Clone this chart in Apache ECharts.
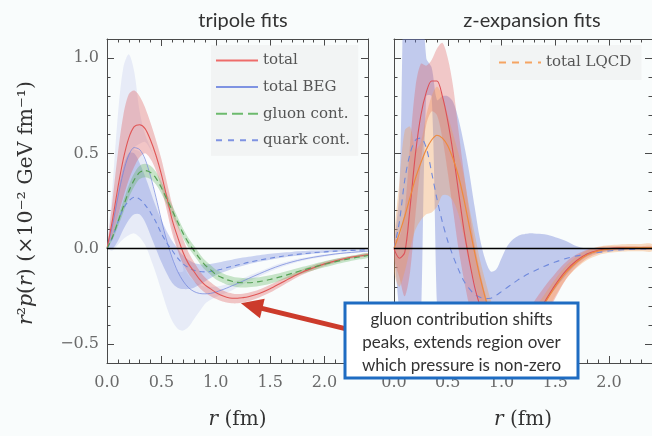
<!DOCTYPE html>
<html>
<head>
<meta charset="utf-8">
<script src="https://cdn.jsdelivr.net/npm/echarts@6/dist/echarts.min.js"></script>
<style>html,body{margin:0;padding:0;background:#f9fcfc;}#chart{width:652px;height:436px;}</style>
</head>
<body>
<div id="chart"></div>
<script>
// radius grid (fm)
const R = [0,0.05,0.1,0.15,0.2,0.25,0.3,0.35,0.4,0.45,0.5,0.55,0.6,0.65,0.7,0.75,0.8,0.85,0.9,0.95,1.0,1.05,1.1,1.15,1.2,1.25,1.3,1.4,1.5,1.6,1.7,1.8,1.9,2.0,2.1,2.2,2.3,2.4];

// ---- tripole fits ----
const TRI_TOTAL    = [0,0.15,0.32,0.47,0.58,0.64,0.65,0.63,0.57,0.49,0.39,0.27,0.15,0.06,-0.02,-0.08,-0.12,-0.16,-0.19,-0.21,-0.23,-0.245,-0.255,-0.26,-0.26,-0.257,-0.252,-0.235,-0.21,-0.18,-0.15,-0.122,-0.1,-0.08,-0.064,-0.05,-0.04,-0.032];
const TRI_TOTAL_UP = [0,0.25,0.5,0.7,0.81,0.83,0.8,0.74,0.66,0.57,0.47,0.35,0.23,0.13,0.05,-0.02,-0.07,-0.115,-0.15,-0.175,-0.197,-0.215,-0.228,-0.235,-0.238,-0.236,-0.232,-0.215,-0.19,-0.162,-0.134,-0.108,-0.087,-0.069,-0.054,-0.042,-0.033,-0.025];
const TRI_TOTAL_LO = [0,0.07,0.17,0.27,0.36,0.43,0.48,0.5,0.47,0.41,0.32,0.2,0.08,-0.01,-0.08,-0.13,-0.17,-0.205,-0.23,-0.248,-0.263,-0.275,-0.283,-0.287,-0.287,-0.283,-0.276,-0.256,-0.23,-0.198,-0.166,-0.136,-0.113,-0.091,-0.074,-0.058,-0.047,-0.039];
const TRI_BEG      = [0,0.12,0.27,0.4,0.49,0.53,0.52,0.47,0.38,0.27,0.15,0.04,-0.05,-0.12,-0.17,-0.205,-0.225,-0.235,-0.237,-0.235,-0.228,-0.218,-0.207,-0.195,-0.183,-0.17,-0.157,-0.132,-0.108,-0.087,-0.07,-0.056,-0.045,-0.036,-0.028,-0.022,-0.017,-0.013];
const TRI_BEG_UP   = [0,0.32,0.7,0.95,1.02,0.93,0.72,0.6,0.53,0.45,0.36,0.25,0.13,0.02,-0.08,-0.14,-0.17,-0.19,-0.2,-0.2,-0.2,-0.195,-0.187,-0.177,-0.167,-0.155,-0.143,-0.12,-0.097,-0.077,-0.061,-0.048,-0.038,-0.03,-0.023,-0.018,-0.013,-0.01];
const TRI_BEG_LO   = [0,-0.01,0.02,0.05,0.07,0.08,0.06,0.02,-0.05,-0.13,-0.22,-0.31,-0.38,-0.42,-0.43,-0.41,-0.37,-0.33,-0.29,-0.27,-0.255,-0.243,-0.232,-0.218,-0.203,-0.188,-0.173,-0.146,-0.12,-0.097,-0.079,-0.064,-0.052,-0.042,-0.033,-0.026,-0.021,-0.016];
const R_GAP        = [0.25,0.3,0.35,0.4,0.45,0.5,0.55,0.6,0.65,0.7];
const TRI_GAP_UP   = [0.53,0.55,0.56,0.52,0.45,0.35,0.23,0.11,0.0,-0.1];
const TRI_GAP_LO   = [0.52,0.51,0.46,0.37,0.26,0.14,0.03,-0.06,-0.12,-0.12];
const TRI_QUARK    = [0,0.06,0.14,0.21,0.25,0.27,0.26,0.23,0.19,0.14,0.08,0.03,-0.01,-0.05,-0.08,-0.1,-0.113,-0.12,-0.122,-0.12,-0.115,-0.108,-0.1,-0.093,-0.086,-0.079,-0.072,-0.06,-0.05,-0.041,-0.033,-0.027,-0.021,-0.017,-0.013,-0.01,-0.008,-0.006];
const TRI_QUARK_UP = [0,0.14,0.3,0.43,0.5,0.5,0.45,0.38,0.3,0.22,0.15,0.09,0.04,0.0,-0.035,-0.06,-0.075,-0.082,-0.083,-0.08,-0.075,-0.07,-0.064,-0.058,-0.052,-0.047,-0.042,-0.034,-0.027,-0.021,-0.017,-0.013,-0.01,-0.008,-0.006,-0.005,-0.004,-0.003];
const TRI_QUARK_LO = [0,0.0,0.04,0.1,0.15,0.18,0.18,0.14,0.07,0.0,-0.07,-0.13,-0.18,-0.205,-0.212,-0.212,-0.205,-0.19,-0.172,-0.155,-0.14,-0.128,-0.117,-0.107,-0.098,-0.09,-0.082,-0.069,-0.058,-0.048,-0.04,-0.033,-0.027,-0.022,-0.018,-0.014,-0.011,-0.009];
const TRI_GLUON    = [0,0.06,0.14,0.22,0.3,0.36,0.4,0.41,0.4,0.37,0.32,0.26,0.2,0.14,0.08,0.03,-0.01,-0.05,-0.085,-0.11,-0.135,-0.15,-0.163,-0.171,-0.177,-0.179,-0.179,-0.173,-0.162,-0.147,-0.13,-0.113,-0.097,-0.082,-0.068,-0.056,-0.045,-0.036];
const TRI_GLUON_UP = [0,0.075,0.165,0.25,0.333,0.395,0.435,0.445,0.435,0.403,0.35,0.288,0.226,0.165,0.105,0.055,0.015,-0.025,-0.06,-0.085,-0.11,-0.125,-0.138,-0.146,-0.152,-0.154,-0.155,-0.15,-0.14,-0.127,-0.111,-0.095,-0.08,-0.066,-0.053,-0.042,-0.032,-0.024];
const TRI_GLUON_LO = [0,0.045,0.115,0.19,0.267,0.325,0.365,0.375,0.365,0.337,0.29,0.232,0.174,0.115,0.055,0.005,-0.035,-0.075,-0.11,-0.135,-0.16,-0.175,-0.188,-0.196,-0.202,-0.204,-0.203,-0.196,-0.184,-0.167,-0.149,-0.131,-0.114,-0.098,-0.083,-0.07,-0.058,-0.048];

// ---- z-expansion fits ----
const Z_TOTAL    = [0,-0.05,-0.02,0.22,0.5,0.7,0.82,0.88,0.88,0.8,0.67,0.5,0.3,0.1,-0.06,-0.2,-0.3,-0.39,-0.46,-0.51,-0.54,-0.55,-0.54,-0.51,-0.47,-0.42,-0.37,-0.28,-0.19,-0.115,-0.062,-0.027,-0.009,0.0,0.004,0.005,0.005,0.005];
const Z_TOTAL_UP = [0.04,0.06,0.2,0.55,0.85,0.97,0.96,0.99,1.05,1.08,1.0,0.85,0.62,0.4,0.2,0.02,-0.12,-0.24,-0.33,-0.39,-0.42,-0.43,-0.42,-0.4,-0.36,-0.32,-0.28,-0.2,-0.13,-0.07,-0.03,-0.005,0.007,0.012,0.014,0.014,0.013,0.013];
const Z_TOTAL_LO = [-0.05,-0.15,-0.25,-0.12,0.18,0.45,0.65,0.72,0.7,0.58,0.4,0.2,0.0,-0.16,-0.3,-0.4,-0.5,-0.56,-0.62,-0.66,-0.68,-0.68,-0.66,-0.63,-0.59,-0.54,-0.48,-0.37,-0.26,-0.16,-0.095,-0.05,-0.025,-0.012,-0.006,-0.004,-0.003,-0.003];
const Z_LQCD     = [0,0.08,0.17,0.27,0.37,0.45,0.52,0.57,0.595,0.58,0.54,0.47,0.38,0.26,0.12,-0.02,-0.15,-0.26,-0.36,-0.44,-0.5,-0.53,-0.54,-0.52,-0.49,-0.44,-0.39,-0.29,-0.2,-0.125,-0.07,-0.032,-0.012,-0.002,0.003,0.005,0.005,0.005];
const Z_LQCD_UP  = [0.05,0.35,0.62,0.64,0.52,0.56,0.7,0.8,0.85,0.8,0.7,0.6,0.5,0.38,0.22,0.08,-0.06,-0.17,-0.27,-0.35,-0.41,-0.44,-0.45,-0.43,-0.4,-0.36,-0.32,-0.24,-0.16,-0.09,-0.04,-0.008,0.01,0.018,0.022,0.024,0.025,0.025];
const Z_LQCD_LO  = [-0.12,-0.2,-0.12,0.0,0.1,0.15,0.18,0.19,0.22,0.28,0.28,0.25,0.18,0.06,-0.08,-0.18,-0.28,-0.37,-0.46,-0.54,-0.6,-0.63,-0.64,-0.62,-0.59,-0.54,-0.48,-0.36,-0.25,-0.16,-0.1,-0.058,-0.034,-0.022,-0.016,-0.014,-0.014,-0.014];
const Z_QUARK    = [0,0.14,0.36,0.5,0.57,0.58,0.53,0.4,0.26,0.14,0.04,-0.04,-0.11,-0.17,-0.21,-0.24,-0.255,-0.262,-0.26,-0.245,-0.225,-0.205,-0.185,-0.165,-0.148,-0.132,-0.118,-0.092,-0.07,-0.052,-0.038,-0.028,-0.02,-0.012,-0.007,-0.004,-0.002,-0.001];
const Z_QUARK_UP = [0.02,0.3,1.6,1.8,1.8,1.5,1.0,0.95,0.78,0.8,0.8,0.77,0.68,0.55,0.4,0.22,0.05,-0.06,-0.12,-0.11,-0.05,0.01,0.045,0.065,0.075,0.08,0.08,0.075,0.06,0.04,0.012,0.0,-0.002,-0.002,-0.001,0.0,0.0,0.0];
const Z_QUARK_LO = [-0.02,-0.35,-0.9,-1.0,-0.9,-0.4,0.8,0.8,-0.3,-0.8,-0.9,-0.9,-0.9,-0.88,-0.85,-0.8,-0.72,-0.65,-0.6,-0.55,-0.52,-0.48,-0.45,-0.42,-0.4,-0.37,-0.34,-0.28,-0.21,-0.14,-0.08,-0.04,-0.02,-0.012,-0.008,-0.006,-0.005,-0.004];

// ticks and texts
const X_MIN = 0, X_MAX = 2.4, Y_MIN = -0.6, Y_MAX = 1.1;
const Y_MAJOR = [-0.5, 0, 0.5, 1.0];
const TITLES = ['tripole fits', 'z-expansion fits'];
const NOTE = ['gluon contribution shifts', 'peaks, extends region over', 'which pressure is non-zero'];
const ARROW = [[2.19, -0.42], [1.33, -0.30]];

const SERIF = 'DejaVu Serif';
const SANS = 'Lato';
const AX = '#4a4a4a';

function pairs(xs, ys) { return xs.map((x, i) => [x, ys[i]]); }

function band(name, gi, xs, up, lo, fill) {
  return {
    type: 'custom', name: name, xAxisIndex: gi * 4, yAxisIndex: gi * 4,
    clip: true, silent: true, z: 2,
    data: [[xs[0], lo[0]]],
    renderItem: function (params, api) {
      const pts = [];
      for (let i = 0; i < xs.length; i++) pts.push(api.coord([xs[i], up[i]]));
      for (let i = xs.length - 1; i >= 0; i--) pts.push(api.coord([xs[i], lo[i]]));
      return { type: 'polygon', shape: { points: pts, smooth: 0.3 }, style: { fill: fill, stroke: null } };
    }
  };
}

function line(name, gi, ys, color, width, type, extra) {
  return Object.assign({
    type: 'line', name: name, xAxisIndex: gi * 4, yAxisIndex: gi * 4,
    data: pairs(R, ys), smooth: 0.3, symbol: 'none', silent: true, z: 3,
    lineStyle: { color: color, width: width, type: type || 'solid' }
  }, extra || {});
}

function legendOnly(name, gi, color, type) {
  return {
    type: 'line', name: name, xAxisIndex: gi * 4, yAxisIndex: gi * 4, data: [],
    symbol: 'none', itemStyle: { color: color },
    lineStyle: { color: color, width: 3, type: type }
  };
}

function xAxes(gi) {
  const base = { gridIndex: gi, type: 'value', min: X_MIN, max: X_MAX, splitLine: { show: false } };
  return [
    Object.assign({}, base, {
      position: 'bottom', interval: 0.5,
      axisLine: { show: true, onZero: false, lineStyle: { color: AX, width: 1 } },
      axisTick: { show: true, inside: true, length: 7, lineStyle: { color: AX } },
      axisLabel: { show: true, showMaxLabel: false, margin: 12, fontFamily: SERIF, fontSize: 16, color: '#6a6a6a',
        formatter: v => v.toFixed(1) },
      name: '{it|r} (fm)', nameLocation: 'middle', nameGap: 47,
      nameTextStyle: { fontFamily: SERIF, fontSize: 20, color: '#333',
        rich: { it: { fontFamily: SERIF, fontSize: 20, fontStyle: 'italic', color: '#333' } } }
    }),
    Object.assign({}, base, {
      position: 'bottom', interval: 0.1,
      axisLine: { show: false, onZero: false }, axisLabel: { show: false },
      axisTick: { show: true, inside: true, length: 3.5, lineStyle: { color: AX } }
    }),
    Object.assign({}, base, {
      position: 'top', interval: 0.5,
      axisLine: { show: true, onZero: false, lineStyle: { color: AX, width: 1 } },
      axisTick: { show: true, inside: true, length: 7, lineStyle: { color: AX } },
      axisLabel: { show: false }
    }),
    Object.assign({}, base, {
      position: 'top', interval: 0.1,
      axisLine: { show: false, onZero: false }, axisLabel: { show: false },
      axisTick: { show: true, inside: true, length: 3.5, lineStyle: { color: AX } }
    })
  ];
}

function yAxes(gi, labels) {
  const base = { gridIndex: gi, type: 'value', min: Y_MIN, max: Y_MAX, splitLine: { show: false } };
  return [
    Object.assign({}, base, {
      position: 'left',
      axisLine: { show: true, onZero: false, lineStyle: { color: AX, width: 1 } },
      axisTick: { show: true, inside: true, length: 7, customValues: Y_MAJOR, lineStyle: { color: AX } },
      axisLabel: { show: labels, customValues: Y_MAJOR, margin: 8, fontFamily: SERIF, fontSize: 16, color: '#6a6a6a',
        formatter: v => (v < 0 ? '\u2212' : '') + Math.abs(v).toFixed(1) }
    }),
    Object.assign({}, base, {
      position: 'left', interval: 0.1,
      axisLine: { show: false, onZero: false }, axisLabel: { show: false },
      axisTick: { show: true, inside: true, length: 3.5, lineStyle: { color: AX } }
    }),
    Object.assign({}, base, {
      position: 'right',
      axisLine: { show: true, onZero: false, lineStyle: { color: AX, width: 1 } },
      axisTick: { show: true, inside: true, length: 7, customValues: Y_MAJOR, lineStyle: { color: AX } },
      axisLabel: { show: false, customValues: Y_MAJOR }
    }),
    Object.assign({}, base, {
      position: 'right', interval: 0.1,
      axisLine: { show: false, onZero: false }, axisLabel: { show: false },
      axisTick: { show: true, inside: true, length: 3.5, lineStyle: { color: AX } }
    })
  ];
}

const zeroLine = { yAxis: 0, lineStyle: { color: '#000', width: 1.4, type: 'solid' } };

const series = [
  legendOnly('total', 0, '#ee6c6a', 'solid'),
  legendOnly('total BEG', 0, '#7f93e2', 'solid'),
  legendOnly('gluon cont.', 0, '#6dba6d', [11, 5]),
  legendOnly('quark cont.', 0, '#7f93e2', [6, 6]),
  legendOnly('total LQCD', 1, '#f5a462', [7, 6]),

  band('tripole BEG band', 0, R, TRI_BEG_UP, TRI_BEG_LO, 'rgba(140,155,228,0.17)'),
  band('tripole BEG gap', 0, R_GAP, TRI_GAP_UP, TRI_GAP_LO, 'rgba(255,255,255,0.85)'),
  band('tripole quark band', 0, R, TRI_QUARK_UP, TRI_QUARK_LO, 'rgba(105,128,218,0.33)'),
  band('tripole total band', 0, R, TRI_TOTAL_UP, TRI_TOTAL_LO, 'rgba(222,85,85,0.33)'),
  band('tripole gluon band', 0, R, TRI_GLUON_UP, TRI_GLUON_LO, 'rgba(95,178,95,0.33)'),
  line('tripole BEG', 0, TRI_BEG, 'rgba(110,130,220,0.7)', 1),
  line('tripole quark', 0, TRI_QUARK, '#6f89dc', 1.1, [5, 4]),
  line('tripole total', 0, TRI_TOTAL, '#e05656', 1.1),
  line('tripole gluon', 0, TRI_GLUON, '#55a055', 1.2, [6, 4], {
    markLine: {
      silent: true, symbol: 'none', label: { show: false }, animation: false,
      data: [
        zeroLine,
        [
          { coord: ARROW[0], symbol: 'none', lineStyle: { color: '#cc3b2b', width: 5, type: 'solid' } },
          { coord: ARROW[1], symbol: 'triangle', symbolSize: [20, 22] }
        ]
      ]
    }
  }),

  band('z quark band', 1, R, Z_QUARK_UP, Z_QUARK_LO, 'rgba(110,128,215,0.4)'),
  band('z total band', 1, R, Z_TOTAL_UP, Z_TOTAL_LO, 'rgba(225,95,95,0.33)'),
  band('z LQCD band', 1, R, Z_LQCD_UP, Z_LQCD_LO, 'rgba(246,150,70,0.32)'),
  line('z quark', 1, Z_QUARK, '#6f89dc', 1.1, [6, 5]),
  line('z total', 1, Z_TOTAL, '#dc5058', 1.1),
  line('z LQCD', 1, Z_LQCD, '#ee8a3c', 1.2, 'solid', {
    markLine: { silent: true, symbol: 'none', label: { show: false }, animation: false, data: [zeroLine] }
  })
];

const legendCommon = {
  orient: 'vertical', itemWidth: 42, itemHeight: 14, itemGap: 11.6,
  backgroundColor: 'rgba(236,236,236,0.5)', borderRadius: 0,
  textStyle: { fontFamily: SERIF, fontSize: 15, color: '#555' },
  itemStyle: { opacity: 0 }, selectedMode: false
};

const option = {
  backgroundColor: '#f9fcfc',
  animation: false,
  title: [
    { text: TITLES[0], left: 238, top: 6, textAlign: 'center', textStyle: { fontFamily: SANS, fontSize: 20, fontWeight: 'normal', color: '#333' } },
    { text: TITLES[1], left: 527, top: 6, textAlign: 'center', textStyle: { fontFamily: SANS, fontSize: 20, fontWeight: 'normal', color: '#333' } }
  ],
  legend: [
    Object.assign({}, legendCommon, { left: 211, top: 45, padding: [8, 8, 8, 4], data: ['total', 'total BEG', 'gluon cont.', 'quark cont.'] }),
    Object.assign({}, legendCommon, { left: 490, top: 45, padding: [10, 10, 10, 8], data: ['total LQCD'] })
  ],
  grid: [
    { left: 107, top: 39, width: 261, height: 324 },
    { left: 394, top: 39, width: 261, height: 324 }
  ],
  xAxis: xAxes(0).concat(xAxes(1)),
  yAxis: yAxes(0, true).concat(yAxes(1, false)),
  series: series,
  graphic: [
    { type: 'text', x: 27, y: 203, rotation: Math.PI / 2, z: 50,
      style: { text: '{it|r}²{it|p}({it|r}) (×10⁻² GeV fm⁻¹)', fontFamily: SERIF, fontSize: 20.5, fill: '#333',
        align: 'center', verticalAlign: 'middle',
        rich: { it: { fontFamily: SERIF, fontSize: 20.5, fontStyle: 'italic', fill: '#333' } } } },
    { type: 'rect', z: 100, shape: { x: 345, y: 303, width: 233, height: 75 },
      style: { fill: '#ffffff', stroke: '#1f6cc2', lineWidth: 3 } },
    { type: 'text', z: 101, x: 461.5, y: 320, style: { text: NOTE[0], fontFamily: SANS, fontSize: 17, fill: '#333', align: 'center', verticalAlign: 'middle' } },
    { type: 'text', z: 101, x: 461.5, y: 343, style: { text: NOTE[1], fontFamily: SANS, fontSize: 17, fill: '#333', align: 'center', verticalAlign: 'middle' } },
    { type: 'text', z: 101, x: 461.5, y: 366, style: { text: NOTE[2], fontFamily: SANS, fontSize: 17, fill: '#333', align: 'center', verticalAlign: 'middle' } }
  ]
};

const chart = echarts.init(document.getElementById('chart'), null, { renderer: 'canvas' });
chart.setOption(option);
</script>
</body>
</html>
